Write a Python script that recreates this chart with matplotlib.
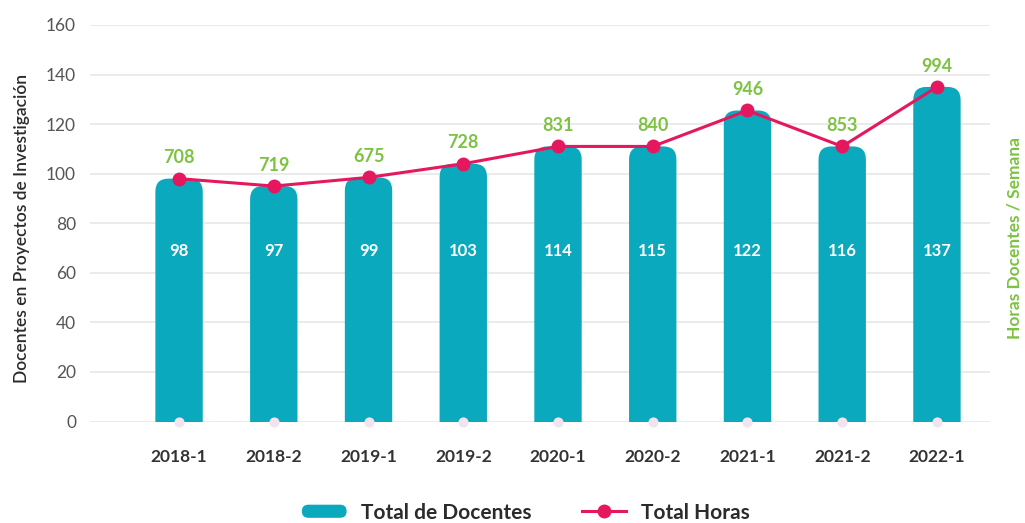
import matplotlib.pyplot as plt
import numpy as np
from matplotlib.patches import FancyBboxPatch
from matplotlib.lines import Line2D
from matplotlib.legend_handler import HandlerPatch

plt.rcParams['font.family'] = ['Lato', 'DejaVu Sans']

# Data
periodos = ['2018-1', '2018-2', '2019-1', '2019-2', '2020-1', '2020-2', '2021-1', '2021-2', '2022-1']
total_docentes = [98, 97, 99, 103, 114, 115, 122, 116, 137]      # labels inside bars
total_horas = [708, 719, 675, 728, 831, 840, 946, 853, 994]      # green labels
# heights as drawn in the original (bars and line share them)
alturas = [98, 95, 98.5, 104, 111, 111, 125.5, 111, 135]

teal = '#0aa9bd'
pink = '#e5175e'
green = '#7dc242'

fig = plt.figure(figsize=(10.25, 5.23), dpi=100)
ax = fig.add_axes([90 / 1025, (523 - 421.5) / 523, 900 / 1025, 396.5 / 523])

x = np.arange(len(periodos))
ax.set_xlim(-0.94, 8.56)
ax.set_ylim(0, 160)

# pixel scale for rounded bar tops
px_x = 900 / (8.56 + 0.94)
px_y = 396.5 / 160
aspect = px_x / px_y
w = 0.5
r = 13 / px_x
r_y = r * aspect

for xi, h in zip(x, alturas):
    # start below zero so the bottom corners get clipped away
    ax.add_patch(FancyBboxPatch((xi - w / 2, -r_y - 1), w, h + r_y + 1,
                                boxstyle=f'round,pad=0,rounding_size={r}',
                                mutation_aspect=aspect, fc=teal, ec='none', zorder=2))

# faint markers at the base
ax.scatter(x, np.zeros(len(x)), s=40, color='#f1e4ef', zorder=3, clip_on=False)

ax.plot(x, alturas, color=pink, lw=2.2, marker='o', ms=9, zorder=4)

for xi, h, d, hr in zip(x, alturas, total_docentes, total_horas):
    ax.text(xi, 69, str(d), ha='center', va='center', color='white',
            fontsize=12, fontweight='bold', zorder=5)
    ax.text(xi, h + 5, str(hr), ha='center', va='bottom', color=green,
            fontsize=13, fontweight='bold', zorder=5)

ax.set_yticks(range(0, 161, 20))
ax.set_xticks(x)
ax.set_xticklabels(periodos, fontsize=12.5, fontweight='bold', color='#333333')
ax.tick_params(axis='y', labelsize=12.5, labelcolor='#555555', length=0, pad=10)
ax.tick_params(axis='x', length=0, pad=20)
ax.grid(axis='y', color='#e8e8e8', lw=1.2, zorder=0)
ax.set_axisbelow(True)
for s in ax.spines.values():
    s.set_visible(False)

fig.text(22 / 1025, 1 - 228 / 523, 'Docentes en Proyectos de Investigación', rotation=90,
         ha='center', va='center', fontsize=12.5, fontweight='semibold', color='#2b2b2b')
fig.text(1015 / 1025, 1 - 238 / 523, 'Horas Docentes / Semana', rotation=90,
         ha='center', va='center', fontsize=12.5, fontweight='bold', color=green)


class PillHandler(HandlerPatch):
    def create_artists(self, legend, orig_handle, xdescent, ydescent, width, height, fontsize, trans):
        p = FancyBboxPatch((-xdescent, -ydescent + height * 0.05), width, height * 0.9,
                           boxstyle=f'round,pad=0,rounding_size={height * 0.45}',
                           fc=teal, ec='none', transform=trans)
        return [p]


bar_handle = FancyBboxPatch((0, 0), 1, 1, fc=teal)
line_handle = Line2D([], [], color=pink, lw=2.2, marker='o', ms=9)
fig.legend([bar_handle, line_handle], ['Total de Docentes', 'Total Horas'],
           handler_map={FancyBboxPatch: PillHandler()},
           loc='center', bbox_to_anchor=(0.513, 0.02), ncol=2, frameon=False,
           prop={'size': 15, 'weight': 'bold'}, handlelength=2.15, columnspacing=2.4,
           handletextpad=0.7, labelcolor='#2b2b2b')

fig.savefig('out.png', dpi=100)
